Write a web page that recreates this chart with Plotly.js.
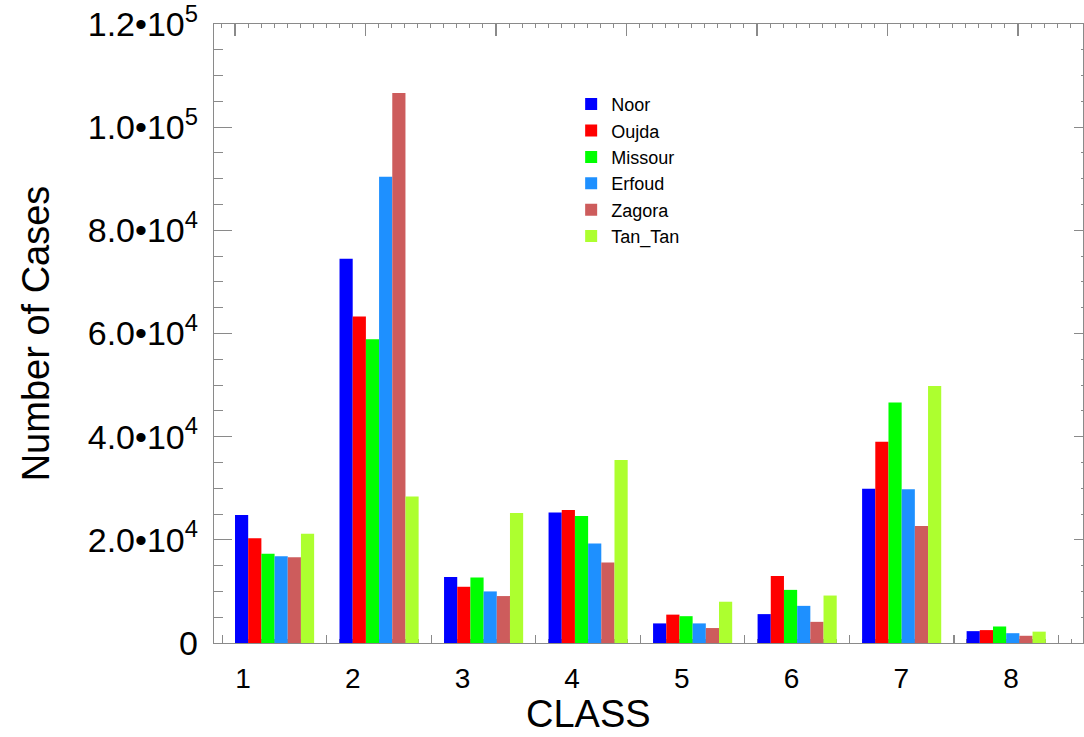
<!DOCTYPE html>
<html>
<head>
<meta charset="utf-8">
<script src="https://cdn.plot.ly/plotly-3.0.1.min.js"></script>
<style>html,body{margin:0;padding:0;background:#fff;}#chart{width:1084px;height:737px;}</style>
</head>
<body>
<div id="chart"></div>
<script>
const classes = [1, 2, 3, 4, 5, 6, 7, 8];
const classLabels = ["1", "2", "3", "4", "5", "6", "7", "8"];
const seriesNames = ["Noor", "Oujda", "Missour", "Erfoud", "Zagora", "Tan_Tan"];
const noor    = [24800, 74500, 12800, 25300, 3800, 5600, 29900, 2300];
const oujda   = [20300, 63300, 10900, 25800, 5500, 13000, 39000, 2500];
const missour = [17300, 58900, 12700, 24600, 5200, 10300, 46600, 3200];
const erfoud  = [16800, 90400, 10000, 19300, 3800, 7200, 29800, 1900];
const zagora  = [16600, 106600, 9100, 15600, 2900, 4100, 22700, 1400];
const tantan  = [21200, 28400, 25200, 35500, 8000, 9200, 49800, 2200];
const yTickVals = [0, 20000, 40000, 60000, 80000, 100000, 120000];
const yTickText = ["0", "2.0•10<sup>4</sup>", "4.0•10<sup>4</sup>", "6.0•10<sup>4</sup>",
                   "8.0•10<sup>4</sup>", "1.0•10<sup>5</sup>", "1.2•10<sup>5</sup>"];
const colors = ["#0000ff", "#ff0000", "#00ff00", "#1e90ff", "#cd5c5c", "#adff2f"];
const values = [noor, oujda, missour, erfoud, zagora, tantan];

const FONT = "Liberation Sans, Arial, Helvetica, sans-serif";
const AXC = "#8a8a8a";

const traces = seriesNames.map((name, i) => ({
  type: "bar", name: name, x: classes, y: values[i],
  marker: {color: colors[i], line: {width: 0}},
  xaxis: "x", yaxis: "y"
}));

// invisible helper traces so that the overlaying axes get drawn
function ghost(xa, ya) {
  return {type: "scatter", mode: "markers", x: classes, y: noor, xaxis: xa, yaxis: ya,
          marker: {opacity: 0, size: 1}, showlegend: false, hoverinfo: "skip"};
}
traces.push(ghost("x2", "y"), ghost("x3", "y"), ghost("x", "y2"));

const layout = {
  width: 1084, height: 737,
  margin: {l: 214, r: 1, t: 24, b: 94, pad: 0},
  paper_bgcolor: "#ffffff", plot_bgcolor: "#ffffff",
  font: {family: FONT, color: "#000"},
  barmode: "group", bargap: 0.243, bargroupgap: 0,
  showlegend: true,
  legend: {x: 0.411, xanchor: "left", y: 0.90, yanchor: "top",
           font: {family: FONT, size: 18, color: "#000"},
           bgcolor: "rgba(0,0,0,0)", borderwidth: 0, traceorder: "normal",
           itemclick: false},
  xaxis: {
    range: [0.4205, 8.735], showgrid: false, zeroline: false,
    showline: true, linecolor: AXC, linewidth: 1.2,
    ticks: "inside", tick0: 0.5, dtick: 1, ticklen: 8, tickcolor: AXC, tickwidth: 1.2,
    minor: {ticks: "inside", dtick: 0.125, tick0: 0.5, ticklen: 4, tickcolor: AXC, tickwidth: 1},
    showticklabels: false, layer: "below traces"
  },
  xaxis2: {
    overlaying: "x", anchor: "y", side: "bottom",
    range: [0.7356, 8.657], showgrid: false, zeroline: false, showline: false,
    tickmode: "array", tickvals: classes, ticktext: classLabels,
    ticks: "outside", ticklen: 10, tickcolor: "rgba(0,0,0,0)",
    tickfont: {family: FONT, size: 28, color: "#000"}
  },
  xaxis3: {
    overlaying: "x", anchor: "y", side: "top",
    range: [0, 869], showgrid: false, zeroline: false,
    showline: true, linecolor: AXC, linewidth: 1.2,
    ticks: "inside", tick0: 21, dtick: 130.5, ticklen: 12, tickcolor: AXC, tickwidth: 1.2,
    minor: {ticks: "inside", tick0: 21, dtick: 13.05, ticklen: 4, tickcolor: AXC, tickwidth: 1},
    showticklabels: false
  },
  yaxis: {
    range: [0, 120000], showgrid: false, zeroline: false,
    showline: true, linecolor: AXC, linewidth: 1.2,
    tickmode: "array", tickvals: yTickVals, ticktext: yTickText,
    ticks: "inside", ticklen: 18, tickcolor: AXC, tickwidth: 1.2,
    minor: {ticks: "inside", dtick: 5000, ticklen: 9, tickcolor: AXC, tickwidth: 1},
    ticklabelstandoff: 8, ticklabeloverflow: "allow",
    tickfont: {family: FONT, size: 34, color: "#000"},
    title: {text: "Number of Cases", font: {family: FONT, size: 38, color: "#000"}, standoff: 26}
  },
  yaxis2: {
    overlaying: "y", anchor: "x", side: "right",
    range: [0, 120000], showgrid: false, zeroline: false,
    showline: true, linecolor: AXC, linewidth: 1.2,
    tickmode: "array", tickvals: yTickVals, ticks: "inside", ticklen: 9, tickcolor: AXC, tickwidth: 1.2,
    minor: {ticks: "inside", dtick: 5000, ticklen: 2, tickcolor: AXC, tickwidth: 1},
    showticklabels: false
  },
  annotations: [{
    text: "CLASS", xref: "paper", yref: "paper", x: 0.4315, y: -0.1147,
    xanchor: "center", yanchor: "middle", showarrow: false,
    font: {family: FONT, size: 38, color: "#000"}
  }]
};

Plotly.newPlot("chart", traces, layout, {staticPlot: true, displayModeBar: false});
</script>
</body>
</html>
